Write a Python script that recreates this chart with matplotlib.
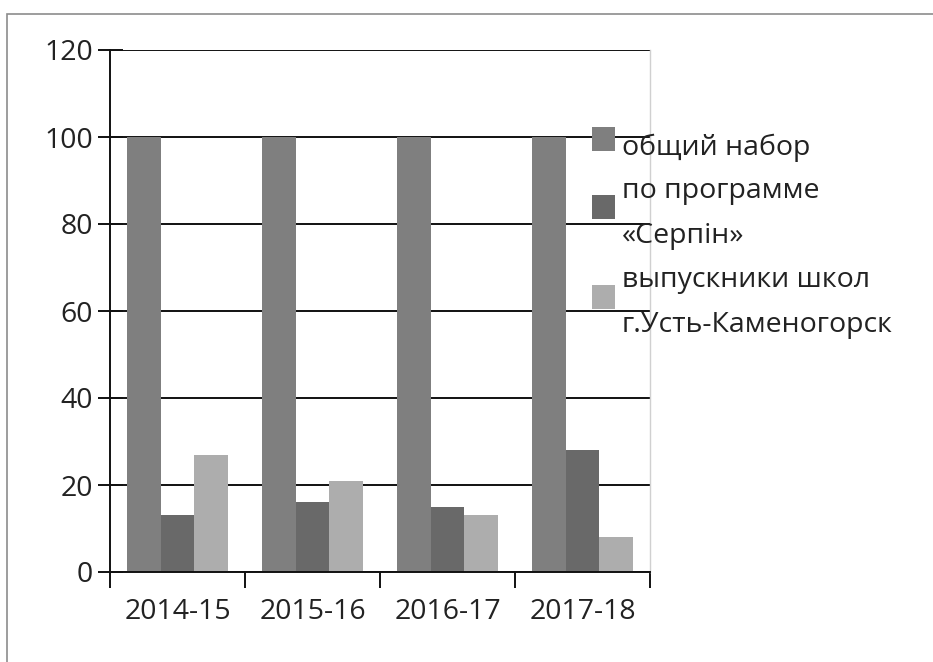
import matplotlib
matplotlib.use("Agg")
import matplotlib.pyplot as plt
from matplotlib.patches import Rectangle
import numpy as np

categories = ["2014-15", "2015-16", "2016-17", "2017-18"]
total = [100, 100, 100, 100]
serpin = [13, 16, 15, 28]
graduates = [27, 21, 13, 8]
series = [total, serpin, graduates]
labels = ["общий набор", "по программе\n«Серпін»", "выпускники школ\nг.Усть-Каменогорск"]
colors = ["#7f7f7f", "#696969", "#adadad"]
yticks = [0, 20, 40, 60, 80, 100, 120]

W, H = 933, 662
FS = 20.5
plt.rcParams['font.family'] = ['Open Sans', 'DejaVu Sans']
fig = plt.figure(figsize=(W / 100, H / 100), dpi=100)

def fx(px):
    return px / W

def fy(py):
    return 1 - py / H

# outer frame
fig.patches.append(Rectangle((fx(7), fy(700)), fx(1000), fy(14) - fy(700),
                             transform=fig.transFigure, fill=False,
                             edgecolor="#8c8c8c", linewidth=1.2, zorder=0))

ax = fig.add_axes([fx(110), fy(572), fx(650) - fx(110), fy(50) - fy(572)])
ax.set_facecolor("none")

x = np.arange(len(categories))
bw = 0.248
for i, (vals, c) in enumerate(zip(series, colors)):
    ax.bar(x + (i - 1) * bw, vals, width=bw, color=c, zorder=2, linewidth=0)

ax.set_xlim(-0.5, len(categories) - 0.5)
ax.set_ylim(0, 120)
ax.set_yticks(yticks)
ax.set_yticklabels([str(v) for v in yticks])
ax.yaxis.grid(True, color="#111111", linewidth=1.4, zorder=1)
ax.set_axisbelow(True)

ax.set_xticks(np.arange(len(categories) + 1) - 0.5)
ax.set_xticklabels([])
ax.set_xticks(x, minor=True)
ax.set_xticklabels(categories, minor=True)

ax.tick_params(axis='x', which='major', direction='out', length=11.5, width=1.4, color='#111111')
ax.tick_params(axis='x', which='minor', length=0, pad=19, labelsize=FS, labelcolor='#222222')
ax.tick_params(axis='y', which='major', direction='inout', length=18, width=1.4, color='#111111',
               pad=3, labelsize=FS, labelcolor='#222222')

ax.spines['top'].set_visible(False)
ax.spines['right'].set_color('#d0d0d0')
ax.spines['right'].set_linewidth(1.0)
ax.spines['left'].set_color('#111111')
ax.spines['left'].set_linewidth(1.4)
ax.spines['bottom'].set_color('#111111')
ax.spines['bottom'].set_linewidth(1.4)

# legend drawn manually
marker_tops = [127, 195, 285]
line_baselines = [[155], [198, 243], [287, 332]]
for lab, c, mt, bls in zip(labels, colors, marker_tops, line_baselines):
    fig.patches.append(Rectangle((fx(592), fy(mt + 24)), fx(23), fy(mt) - fy(mt + 24),
                                 transform=fig.transFigure, facecolor=c,
                                 edgecolor='none', zorder=5))
    for line, bl in zip(lab.split("\n"), bls):
        fig.text(fx(622), fy(bl), line, fontsize=FS, color='#222222',
                 ha='left', va='baseline', zorder=6)

fig.savefig("out.png", dpi=100)
